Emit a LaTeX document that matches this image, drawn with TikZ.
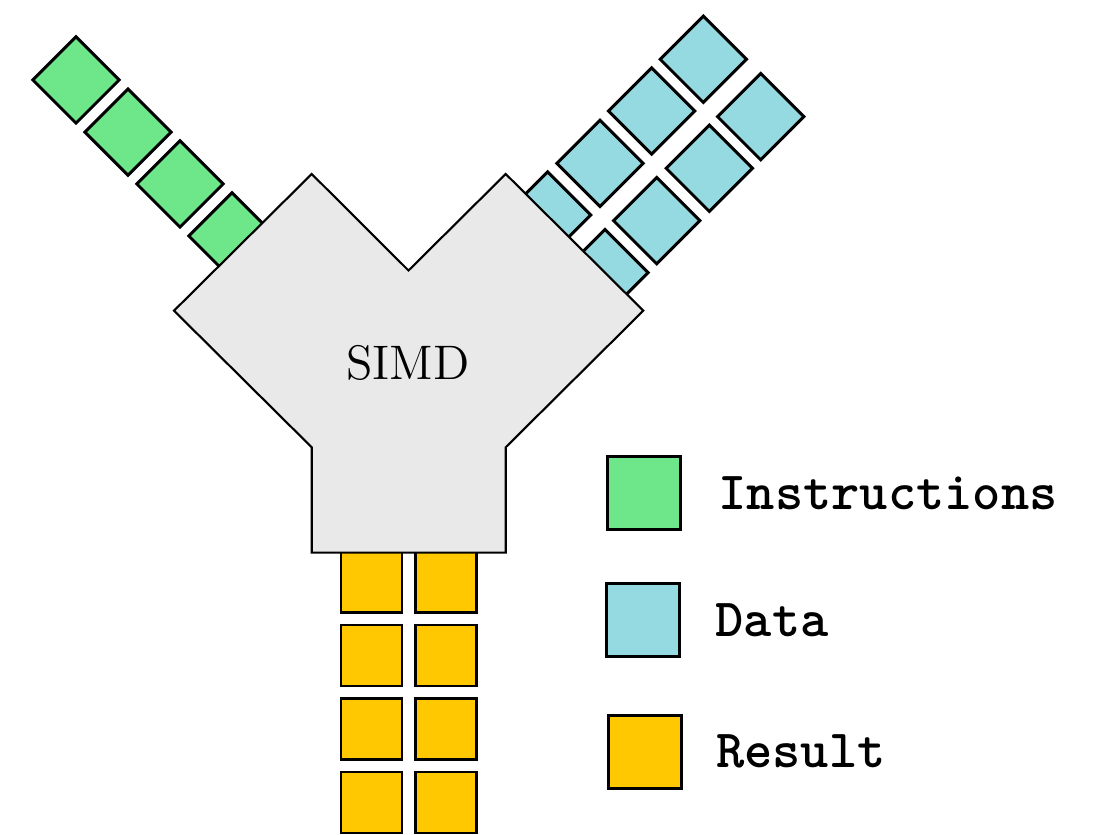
\documentclass[tikz,border=0pt]{standalone}
\usepackage{fontspec}
\usetikzlibrary{positioning}
\definecolor{instgreen}{RGB}{110,230,138}
\definecolor{datablue}{RGB}{150,218,225}
\definecolor{resyellow}{RGB}{255,200,0}
\definecolor{simdgray}{RGB}{233,233,233}
\begin{document}
\begin{tikzpicture}[
		cell/.style={draw, line width=0.85pt, inner sep=0pt, minimum size=0.61cm},
		keycell/.style={draw, line width=0.85pt, inner sep=0pt, minimum size=0.73cm},
		keytext/.style={inner sep=0pt, font=\ttfamily\bfseries\fontsize{15.3}{17}\selectfont},
		body/.style={draw, fill=simdgray, line width=0.6pt, line join=miter}]
			\useasboundingbox (0,0) rectangle (11.11,-8.35);
			% instruction stream
			\foreach \i/\x/\y in {1/0.76/-0.80, 2/1.28/-1.322, 3/1.80/-1.84, 4/2.32/-2.36}{
				\node[cell, fill=instgreen, rotate=45] (ins\i) at (\x,\y) {};
			}
			% two data streams
			\foreach \i/\x/\y in {1/7.033/-0.593, 2/6.517/-1.11, 3/6.00/-1.633, 4/5.477/-2.15}{
				\node[cell, fill=datablue, rotate=45] (data\i) at (\x,\y) {};
			}
			\foreach \i/\x/\y in {1/7.607/-1.167, 2/7.093/-1.683, 3/6.567/-2.207, 4/6.05/-2.727}{
				\node[cell, fill=datablue, rotate=45] (datb\i) at (\x,\y) {};
			}
			% results
			\foreach \r/\y in {1/-5.82, 2/-6.555, 3/-7.29, 4/-8.025}{
				\node[cell, fill=resyellow] (resa\r) at (3.715,\y) {};
				\node[cell, fill=resyellow] (resb\r) at (4.46,\y) {};
			}
			% processor
			\draw[body] (1.74,-3.107) -- (3.117,-1.74) -- (4.085,-2.705) -- (5.057,-1.74)
				-- (6.433,-3.107) -- (5.057,-4.473) -- (5.057,-5.527) -- (3.117,-5.527)
				-- (3.117,-4.473) -- cycle;
			\node[font=\fontsize{13.8}{16}\selectfont] (simd) at (4.08,-3.633) {SIMD};
			% legend
			\node[keycell, fill=instgreen] (key1) at (6.44,-4.933) {};
			\node[keycell, fill=datablue] (key2) at (6.43,-6.20) {};
			\node[keycell, fill=resyellow] (key3) at (6.445,-7.517) {};
			\node[keytext, right=0.36cm of key1] (lab1) {Instructions};
			\node[keytext, right=0.34cm of key2] (lab2) {Data};
			\node[keytext, right=0.33cm of key3] (lab3) {Result};
		\end{tikzpicture}
\end{document}
